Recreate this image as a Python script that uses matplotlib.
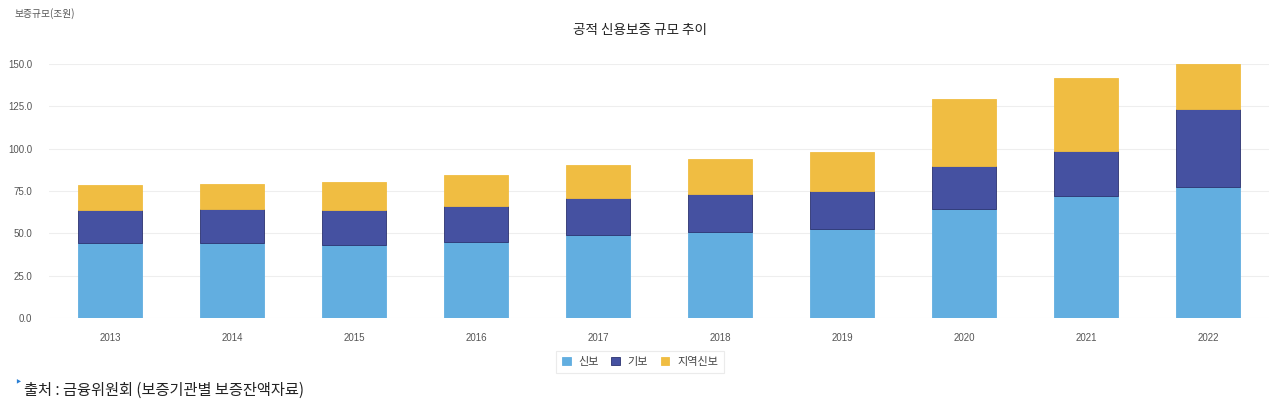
import matplotlib
matplotlib.use("Agg")
import matplotlib.pyplot as plt
import numpy as np

plt.rcParams['font.family'] = ['Noto Sans CJK KR', 'DejaVu Sans']

years = ['2013', '2014', '2015', '2016', '2017', '2018', '2019', '2020', '2021', '2022']
sinbo = [44.5, 44.5, 43.3, 44.9, 49.0, 50.8, 52.6, 64.6, 72.3, 77.4]
gibo = [19.3, 20.1, 20.5, 21.4, 21.9, 22.4, 22.2, 25.2, 26.2, 46.2]
jiyeok = [14.6, 14.4, 16.3, 18.0, 19.7, 20.7, 23.1, 39.7, 43.1, 26.4]
series_names = ['신보', '기보', '지역신보']
colors = ['#62aee0', '#4551a1', '#f0bd42']

fig = plt.figure(figsize=(12.8, 3.99), dpi=100)
ax = fig.add_axes([0.0383, 0.203, 0.953, 0.6365])

x = np.arange(len(years))
w = 0.53
bottom = np.zeros(len(years))
for vals, c, name in zip([sinbo, gibo, jiyeok], colors, series_names):
    ec = '#2b3270' if name == '기보' else c
    ax.bar(x, vals, w, bottom=bottom, color=c, edgecolor=ec, linewidth=0.6,
           label=name, zorder=3)
    bottom += np.array(vals)

ax.set_xlim(-0.5, len(years) - 0.5)
ax.set_ylim(0, 150)
ax.set_yticks(np.arange(0, 151, 25))
ax.set_yticklabels([f'{v:.1f}' for v in np.arange(0, 151, 25)])
ax.set_xticks(x)
ax.set_xticklabels(years)
ax.tick_params(axis='both', length=0, labelsize=7, colors='#555555')
ax.tick_params(axis='y', pad=12)
ax.tick_params(axis='x', pad=11)
for lbl in ax.get_xticklabels() + ax.get_yticklabels():
    lbl.set_family(['Liberation Sans', 'DejaVu Sans'])
ax.grid(axis='y', color='#eeeeee', linewidth=0.8, zorder=0)
for s in ax.spines.values():
    s.set_visible(False)

fig.text(0.5, 0.925, '공적 신용보증 규모 추이', ha='center', va='center',
         fontsize=9.8, color='#222222')
fig.text(0.011, 0.965, '보증규모(조원)', ha='left', va='center',
         fontsize=7, color='#555555')

leg = fig.legend(loc='center', bbox_to_anchor=(0.5, 0.093), ncol=3,
                 fontsize=8, frameon=True, handlelength=0.8, handleheight=0.8,
                 handletextpad=0.7, columnspacing=1.1, borderpad=0.55)
leg.get_frame().set_edgecolor('#e6e6e6')
leg.get_frame().set_linewidth(0.8)
leg.get_frame().set_boxstyle('square', pad=0)
for t in leg.get_texts():
    t.set_color('#444444')

fig.text(0.011, 0.04, '‣', ha='left', va='center', fontsize=9, color='#2a7fd4',
         family=['DejaVu Sans'])
fig.text(0.019, 0.022, '출처 : 금융위원회 (보증기관별 보증잔액자료)', ha='left',
         va='center', fontsize=11, color='#222222', fontweight='medium')

fig.savefig('out.png', dpi=100, facecolor='white')
